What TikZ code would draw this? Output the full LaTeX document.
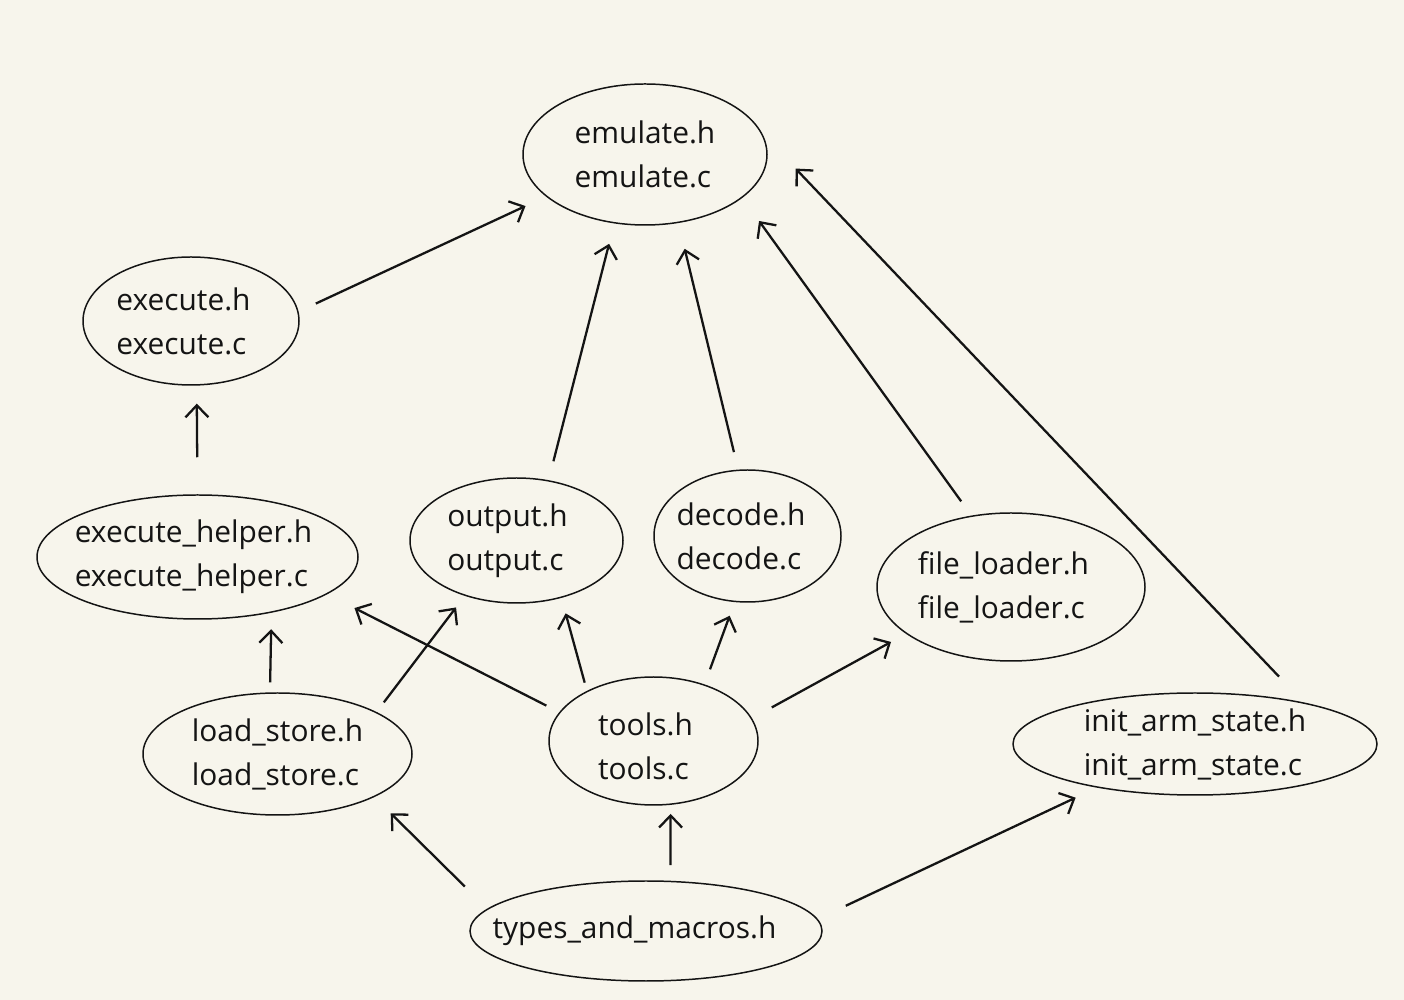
\documentclass[tikz,border=0pt]{standalone}
\usepackage{fontspec}
\setmainfont{Open Sans}
\usepackage{tikz}
\usetikzlibrary{shapes.geometric, arrows.meta}
\definecolor{paper}{RGB}{247,245,236}
\definecolor{ink}{RGB}{20,20,20}
\tikzset{
  srcfile/.style 2 args={ellipse, draw=ink, line width=0.85pt,
    minimum width=#1, minimum height=#2, inner sep=0pt},
  fname/.style={font=\fontsize{17}{25}\selectfont, align=left, text=ink},
  dep/.style={-{Straight Barb[length=2.4mm, width=4.6mm]}, line width=1.3pt, color=ink}
}

\begin{document}
\begin{tikzpicture}
  \path[use as bounding box, fill=paper] (0,0) rectangle (28.08,20);

  \node[srcfile={4.88cm}{2.82cm}, label={[fname]center:emulate.h\\emulate.c}] (emulate) at (12.9,16.91) {};
  \node[srcfile={4.32cm}{2.56cm}, label={[fname, xshift=-0.15cm]center:execute.h\\execute.c}] (execute) at (3.82,13.58) {};
  \node[srcfile={6.42cm}{2.48cm}, label={[fname, xshift=-0.08cm]center:execute\_helper.h\\execute\_helper.c}] (helper) at (3.95,8.86) {};
  \node[srcfile={4.26cm}{2.50cm}, label={[fname, xshift=-0.18cm]center:output.h\\output.c}] (output) at (10.33,9.19) {};
  \node[srcfile={3.74cm}{2.64cm}, label={[fname, xshift=-0.13cm]center:decode.h\\decode.c}] (decode) at (14.95,9.28) {};
  \node[srcfile={5.36cm}{2.96cm}, label={[fname, xshift=-0.15cm]center:file\_loader.h\\file\_loader.c}] (loader) at (20.22,8.26) {};
  \node[srcfile={5.38cm}{2.44cm}, label={[fname]center:load\_store.h\\load\_store.c}] (ldst) at (5.55,4.92) {};
  \node[srcfile={4.18cm}{2.56cm}, label={[fname, xshift=-0.16cm, yshift=-0.1cm]center:tools.h\\tools.c}] (tools) at (13.07,5.18) {};
  \node[srcfile={7.28cm}{2.04cm}, label={[fname]center:init\_arm\_state.h\\init\_arm\_state.c}] (init) at (23.9,5.12) {};
  \node[srcfile={7.04cm}{2.00cm}, label={[fname, xshift=-0.23cm]center:types\_and\_macros.h}] (types) at (12.92,1.38) {};

  \draw[dep, shorten <=0.38cm, shorten >=0.45cm] (execute.5) -- (emulate.203);
  \draw[dep, shorten <=0.74cm, shorten >=0.36cm] (helper.90) -- (execute.275);
  \draw[dep, shorten <=0.39cm, shorten >=0.42cm] (output.62) -- (emulate.246);
  \draw[dep, shorten <=0.36cm, shorten >=0.53cm] (decode.98) -- (emulate.296);
  \draw[dep, shorten <=0.35cm, shorten >=0.57cm] (loader.119) -- (emulate.336);
  \draw[dep, shorten <=0.71cm, shorten >=0.96cm] (init.21) -- (emulate.10);
  \draw[dep, shorten <=0.20cm, shorten >=0.33cm] (ldst.97) -- (helper.323);
  \draw[dep, shorten <=0.24cm, shorten >=0.29cm] (ldst.23) -- (output.227);
  \draw[dep, shorten <=0.29cm, shorten >=0.61cm] (tools.163) -- (helper.344);
  \draw[dep, shorten <=0.17cm, shorten >=0.32cm] (tools.143) -- (output.308);
  \draw[dep, shorten <=0.32cm, shorten >=0.29cm] (tools.48) -- (decode.259);
  \draw[dep, shorten <=0.45cm, shorten >=0.34cm] (tools.13) -- (loader.204);
  \draw[dep, shorten <=0.63cm, shorten >=0.46cm] (types.172) -- (ldst.336);
  \draw[dep, shorten <=0.31cm, shorten >=0.18cm] (types.64) -- (tools.285);
  \draw[dep, shorten <=0.62cm, shorten >=0.47cm] (types.4) -- (init.204);
\end{tikzpicture}
\end{document}
